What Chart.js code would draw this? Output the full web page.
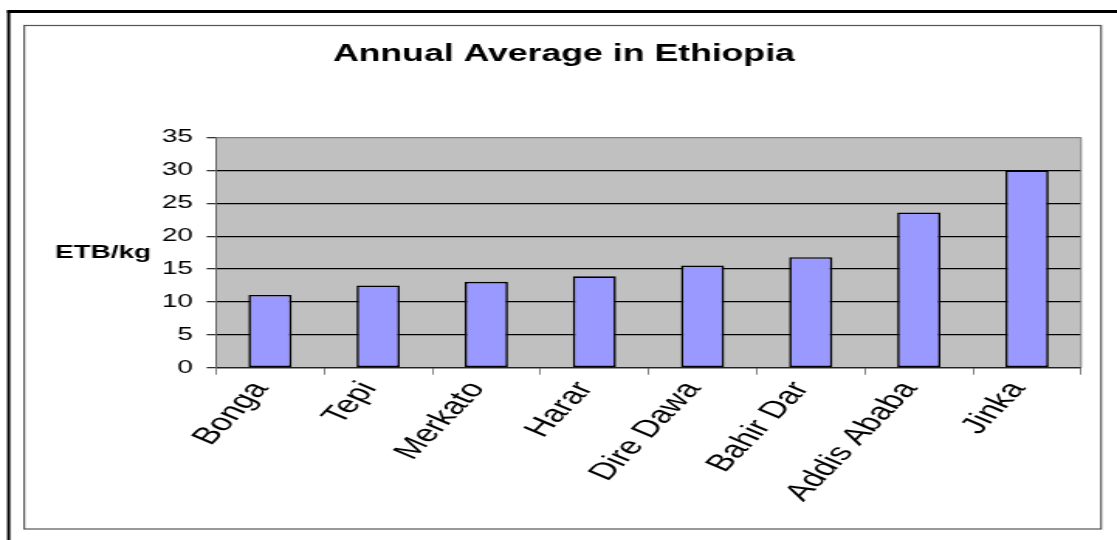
<!DOCTYPE html>
<html>
<head>
<meta charset="utf-8">
<script src="https://cdn.jsdelivr.net/npm/chart.js@4.4.1/dist/chart.umd.min.js"></script>
<style>
  html, body { margin: 0; padding: 0; background: #ffffff; overflow: hidden; }
  #stage { width: 1117px; height: 540px; overflow: hidden; position: relative; }
  #wrap { width: 721px; height: 540px; transform: scale(1.5492, 1); transform-origin: 0 0; position: absolute; left: 0; top: 0; }
</style>
</head>
<body>
<div id="stage"><div id="wrap"><canvas id="c"></canvas></div></div>
<script>
// ---- data ----
const categories = ['Bonga', 'Tepi', 'Merkato', 'Harar', 'Dire Dawa', 'Bahir Dar', 'Addis Ababa', 'Jinka'];
const priceValues = [11.05, 12.5, 13.05, 13.9, 15.55, 16.8, 23.6, 30.0];
const yTickValues = [0, 5, 10, 15, 20, 25, 30, 35];
const chartTitle = 'Annual Average in Ethiopia';
const yAxisTitle = 'ETB/kg';

const FONT = "'Liberation Sans', Arial, Helvetica, sans-serif";

const framePlugin = {
  id: 'frame',
  beforeDraw(chart) {
    const ctx = chart.ctx;
    const a = chart.chartArea;
    ctx.save();
    ctx.fillStyle = '#ffffff';
    ctx.fillRect(0, 0, chart.width, chart.height);
    // outer heavy frame (only top/left visible)
    ctx.fillStyle = '#000000';
    ctx.fillRect(4.6, 10, 2.0, chart.height);
    ctx.fillRect(4.6, 10, chart.width, 3);
    // inner thin frame
    ctx.strokeStyle = '#555555';
    ctx.lineWidth = 1.2;
    ctx.strokeRect(15.6, 25.5, 710.7 - 15.6, 529 - 25.5);
    // plot area
    ctx.fillStyle = '#C0C0C0';
    ctx.fillRect(a.left, a.top, a.right - a.left, a.bottom - a.top);
    ctx.restore();
  },
  afterDraw(chart) {
    const ctx = chart.ctx;
    const a = chart.chartArea;
    ctx.save();
    ctx.strokeStyle = '#808080';
    ctx.lineWidth = 1;
    ctx.beginPath();
    ctx.moveTo(a.right, a.top);
    ctx.lineTo(a.right, a.bottom);
    ctx.stroke();
    ctx.fillStyle = '#000000';
    ctx.font = 'bold 18px ' + FONT;
    ctx.textAlign = 'center';
    ctx.textBaseline = 'middle';
    ctx.fillText(yAxisTitle, 66.5, (a.top + a.bottom) / 2);
    ctx.restore();
  }
};

new Chart(document.getElementById('c'), {
  type: 'bar',
  data: {
    labels: categories,
    datasets: [{
      data: priceValues,
      backgroundColor: '#9999FF',
      borderColor: '#000000',
      borderWidth: 1.6,
      borderSkipped: false,
      barPercentage: 0.4,
      categoryPercentage: 1.0
    }]
  },
  options: {
    responsive: true,
    maintainAspectRatio: false,
    animation: false,
    devicePixelRatio: 1,
    layout: { padding: { left: 7, right: 0, top: 0, bottom: 0 } },
    plugins: {
      legend: { display: false },
      tooltip: { enabled: false },
      title: {
        display: true,
        text: chartTitle,
        color: '#000000',
        font: { family: FONT, size: 23, weight: 'bold' },
        padding: { top: 41, bottom: 68.9 }
      }
    },
    scales: {
      x: {
        grid: { display: true, drawOnChartArea: false, drawTicks: true, tickLength: 7, tickColor: '#808080', offset: true },
        border: { display: true, color: '#222222', width: 1.3 },
        ticks: {
          color: '#000000',
          font: { family: FONT, size: 24 },
          minRotation: 57,
          maxRotation: 57,
          padding: 2,
          labelOffset: -6,
          autoSkip: false
        },
        afterFit(scale) { scale.height = 172.3; }
      },
      y: {
        min: 0,
        max: 35,
        afterBuildTicks(scale) { scale.ticks = yTickValues.map(v => ({ value: v })); },
        grid: {
          color: (c) => (c.tick && c.tick.value === 35 ? '#808080' : '#000000'),
          lineWidth: 1.3,
          tickLength: 6,
          tickColor: '#333333'
        },
        border: { display: true, color: '#666666', width: 1 },
        ticks: {
          color: '#000000',
          font: { family: FONT, size: 18 },
          padding: 9
        },
        afterFit(scale) { scale.width = 132.4; }
      },
      y2: {
        type: 'linear',
        position: 'right',
        display: true,
        grid: { display: false, drawTicks: false },
        border: { display: false },
        ticks: { display: false },
        afterFit(scale) { scale.width = 23.2; }
      }
    }
  },
  plugins: [framePlugin]
});
</script>
</body>
</html>
